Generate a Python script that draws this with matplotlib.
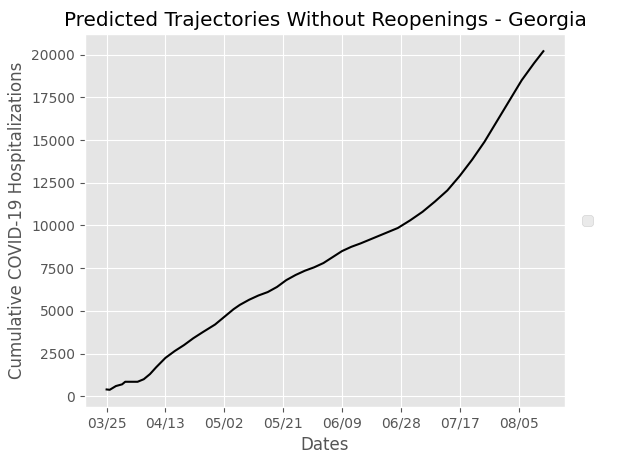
import matplotlib
matplotlib.use("Agg")
import matplotlib.pyplot as plt
import matplotlib.dates as mdates
import pandas as pd

plt.style.use("ggplot")

day_offsets = [0, 1, 3, 5, 6, 10, 12, 14, 16, 19, 22, 25, 28, 31, 35, 38, 41, 43, 46, 49, 52, 55, 58, 61, 64, 67, 70, 73, 76, 79, 82, 86, 90, 94, 98, 102, 106, 110, 114, 118, 122, 126, 130, 134, 138, 141]
values = [400, 380, 600, 700, 850, 850, 1000, 1300, 1700, 2250, 2650, 3000, 3400, 3750, 4200, 4650, 5100, 5350, 5650, 5900, 6100, 6400, 6800, 7100, 7350, 7550, 7800, 8150, 8500, 8750, 8950, 9250, 9550, 9850, 10300, 10800, 11400, 12050, 12900, 13850, 14900, 16100, 17300, 18500, 19500, 20200]
start = "2020-03-25"
tick_labels = ["03/25", "04/13", "05/02", "05/21", "06/09", "06/28", "07/17", "08/05"]

dates = pd.to_datetime(start) + pd.to_timedelta(day_offsets, unit="D")
fig, ax = plt.subplots(figsize=(6.28, 4.57), dpi=100)
ax.plot(dates, values, color="black")
ticks = pd.date_range(start, periods=len(tick_labels), freq="19D")
ax.set_xticks(ticks)
ax.set_xticklabels(tick_labels)
ax.set_xlabel("Dates")
ax.set_ylabel("Cumulative COVID-19 Hospitalizations")
ax.set_title("Predicted Trajectories Without Reopenings - Georgia")
ax.legend(loc="center left", bbox_to_anchor=(1.02, 0.5))
fig.subplots_adjust(left=0.135, right=0.9, top=0.925, bottom=0.11)
fig.savefig("out.png")
